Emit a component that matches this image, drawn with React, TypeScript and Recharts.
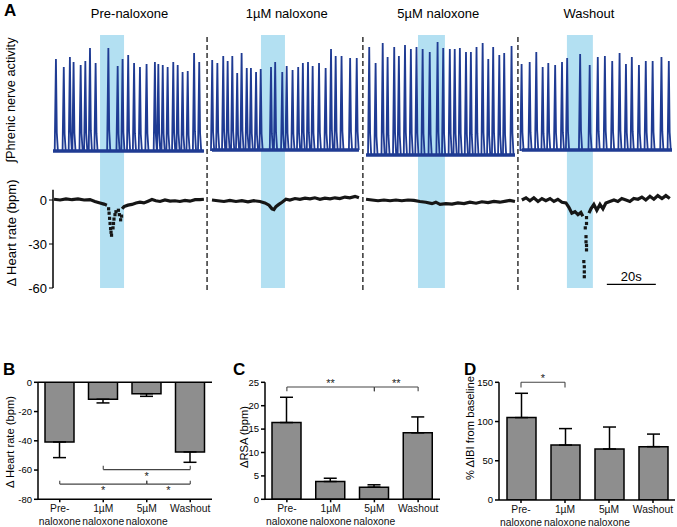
import React from "react";
import {
  ComposedChart,
  Line,
  Scatter,
  XAxis,
  YAxis,
  ReferenceArea,
  ReferenceLine,
  BarChart,
  Bar,
  ErrorBar,
} from "recharts";

const FONT = "'Liberation Sans', Arial, Helvetica, sans-serif";
const BLUE = "#1f3b93";
const SHADE = "#b3e0f2";

// ---------- Panel A: recordings (time in s) ----------
const conditions = ["Pre-naloxone", "1µM naloxone", "5µM naloxone", "Washout"];
const segStart = [0, 64.9, 127.8, 191.4];
const segEnd = [61.6, 124.9, 188.6, 252.7];
const segBase = [0, 1, -4, 1];
const shadeStart = [19.2, 84.9, 149.0, 209.8];
const shadeEnd = [29.0, 94.7, 160.0, 220.4];
const dividerT = [62.9, 126.5, 189.8];
const scaleBarT = [226.1, 246.1];

// phrenic burst peak times and heights (arbitrary units)
const burstT = [
  [1.2, 4.4, 6.9, 8.4, 11.3, 13.2, 15.1, 17.4, 22.6, 26.4, 28.4, 30.7, 33.1, 35.5, 38.2, 41.6, 43.0, 44.8, 46.8, 49.1, 50.9, 52.9, 55.0, 57.6, 59.7],
  [65.0, 67.1, 69.5, 71.3, 73.2, 75.2, 77.0, 79.1, 80.8, 82.9, 84.8, 89.0, 90.7, 93.6, 95.4, 97.8, 100.1, 102.0, 104.1, 106.0, 108.6, 111.3, 113.5, 115.4, 117.8, 121.3, 124.0],
  [129.1, 131.7, 134.6, 136.6, 139.3, 141.2, 143.7, 146.1, 148.4, 150.9, 153.8, 157.0, 159.3, 162.0, 164.0, 166.1, 168.6, 170.6, 172.9, 175.4, 177.7, 179.7, 182.2, 184.2, 187.2],
  [191.3, 194.6, 197.3, 199.9, 202.2, 205.0, 207.8, 209.9, 215.2, 219.1, 222.4, 225.3, 228.3, 231.3, 233.9, 236.3, 239.2, 242.0, 244.8, 248.4, 251.4],
];
const burstAmp = [
  [92, 84, 94, 89, 86, 90, 103, 88, 103, 85, 92, 96, 88, 84, 87, 89, 87, 86, 84, 89, 86, 79, 80, 98, 89],
  [90, 87, 94, 89, 94, 77, 97, 82, 82, 78, 81, 83, 88, 78, 84, 80, 83, 87, 88, 84, 87, 82, 101, 94, 94, 92, 92],
  [108, 92, 112, 98, 108, 99, 110, 106, 108, 106, 103, 113, 107, 106, 106, 107, 103, 103, 108, 112, 96, 108, 100, 102, 109],
  [86, 88, 98, 83, 87, 85, 88, 92, 96, 85, 93, 94, 89, 97, 86, 93, 85, 89, 89, 93, 89],
];

// heart rate change (bpm), trace and isolated beats
const hrLineT = [
  0.4, 2.9, 5.3, 7.8, 10.2, 12.7, 15.1, 17.1, 19.2, 20.8, 22.0, 22.3,
  28.2, 29.0, 30.6, 32.2, 33.9, 35.5, 37.1, 38.8, 40.4, 42.0, 43.7, 45.7, 47.8, 49.8, 51.8, 53.9, 55.9, 58.0, 60.0, 61.6, 63.0,
  64.9, 67.3, 69.8, 72.2, 74.7, 77.1, 79.6, 82.0, 84.5, 86.5, 88.2, 89.4, 90.2, 91.0, 92.2, 93.5, 95.1, 96.7, 98.8, 100.8, 102.9, 104.9, 106.9, 109.0, 111.0, 113.1, 115.1, 117.1, 119.2, 121.2, 123.3, 124.9, 126.0,
  127.8, 130.2, 132.7, 135.1, 137.6, 140.0, 142.4, 144.9, 147.3, 149.8, 152.2, 154.7, 156.3, 158.0, 160.4, 162.9, 165.3, 167.8, 170.2, 172.7, 175.1, 177.6, 180.0, 182.4, 184.9, 186.5, 188.6, 190.0,
  191.4, 193.1, 194.7, 196.3, 198.0, 199.6, 201.2, 202.9, 204.5, 206.1, 207.8, 209.4, 210.6, 211.8, 213.1, 214.3, 215.5, 216.3, 216.5,
  218.8, 219.6, 220.8, 222.0, 223.3, 224.5, 225.7, 227.3, 229.0, 230.6, 232.2, 233.9, 235.5, 237.1, 238.8, 240.4, 242.0, 243.7, 245.3, 246.9, 248.6, 250.2, 251.8,
];
const hrLineV = [
  0.5, 0, 0.8, 0.2, 0.7, 0, 0.3, -1, -2, -2.8, -3.5, null,
  -6, -4.5, -3.5, -3, -2, -1.5, -2, -0.8, 0.3, -0.5, -1, 0, -0.8, -0.5, -1, -0.3, -0.8, 0.2, 0.3, 0.5, null,
  0, -0.5, -1, -0.3, -1, -0.5, -1.2, -0.5, -1, -2, -3.5, -6, -6.5, -4.5, -3, -1.5, 0.5, 0, 1, 0.5, 1.2, 0.8, 1.5, 0.5, 1.2, 0.8, 1.5, 1, 2, 1.5, 2.5, 1.5, null,
  0.5, 0, -0.5, 0, -0.5, 0, -0.5, 0, -0.3, -1, -1.5, -2.5, -1.5, -3, -2.5, -2.8, -2, -2.5, -1.5, -2.2, -1.2, -1.8, -1, -1.5, -0.8, -0.3, -1, null,
  0, 1.5, -0.5, 1.5, -1, 1, -0.5, 1, -1, 0.5, -1.5, -2, -5, -9, -8, -10, -8.5, -11, null,
  -9, -6, -3, -7, -3, -6, -2, -1, 0, -1, 1, 0, -1, 1, 0.5, 2, 0, 2.5, 0.5, 3, 1, 3, 1,
];
const hrDotT = [22.7, 22.9, 23.1, 23.3, 23.5, 23.7, 23.9, 24.5, 24.7, 24.9, 25.3, 25.7, 26.7, 27.1, 27.6, 28.0,
  217.8, 217.8, 217.3, 217.6, 217.6, 217.8, 217.8, 216.7, 216.9, 216.9, 216.9];
const hrDotV = [-6, -9, -12.5, -16, -19.5, -22, -24, -19, -16, -13, -10, -8, -7, -10, -13.5, -11,
  -12, -16, -19, -25, -28.5, -31, -34, -42, -45.5, -49, -52.3];

// ---------- Panels B-D: group means ----------
const barCats = ["Pre-naloxone", "1µM naloxone", "5µM naloxone", "Washout"];
const catLines: Record<string, string[]> = {
  "Pre-naloxone": ["Pre-", "naloxone"],
  "1µM naloxone": ["1µM", "naloxone"],
  "5µM naloxone": ["5µM", "naloxone"],
  Washout: ["Washout"],
};
const hrMean = [-40.8, -11.6, -7.8, -47.6];
const hrSem = [10.7, 2.5, 1.8, 7.1];
const rsaMean = [16.4, 3.8, 2.6, 14.2];
const rsaSem = [5.4, 0.7, 0.5, 3.4];
const ibiMean = [105, 70, 65, 68];
const ibiSem = [31, 21, 28, 16];

// significance brackets: [from, to, y, tick length, label]
const hrSig: [number, number, number, number, string][] = [
  [1, 3, -59.7, 2.6, "*"],
  [0, 2, -69.6, 2.3, "*"],
  [2, 3, -69.6, 2.3, "*"],
];
const rsaSig: [number, number, number, number, string][] = [
  [0, 2, 24.0, -0.9, "**"],
  [2, 3, 24.0, -0.9, "**"],
];
const ibiSig: [number, number, number, number, string][] = [[0, 1, 150, -6.5, "*"]];

function buildPhrenic() {
  const rows: { t: number; p: number | null }[] = [];
  conditions.forEach((_, i) => {
    const base = segBase[i];
    rows.push({ t: segStart[i], p: base });
    burstT[i].forEach((t, j) => {
      const a = burstAmp[i][j];
      rows.push({ t: t - 0.5, p: base });
      rows.push({ t, p: base + a });
      rows.push({ t: t + 0.35, p: base + a * 0.2 });
      rows.push({ t: t + 0.8, p: base });
    });
    rows.push({ t: segEnd[i], p: base });
    rows.push({ t: segEnd[i] + 0.2, p: null });
  });
  return rows;
}

const phrRows = buildPhrenic();
const bandRows = conditions.flatMap((_, i) => [
  { t: segStart[i], b: segBase[i] },
  { t: segEnd[i], b: segBase[i] },
  { t: segEnd[i] + 0.2, b: null },
]);
const hrRows = hrLineT.map((t, i) => ({ t, hr: hrLineV[i] }));
const hrDots = hrDotT.map((t, i) => ({ t, hr: hrDotV[i] }));

const Beat = (props: any) => (
  <rect x={props.cx - 1.6} y={props.cy - 1.6} width={3.2} height={3.2} fill="#161616" />
);

const CatTick = (props: any) => {
  const { x, y, payload } = props;
  const lines = catLines[payload.value] || [payload.value];
  return (
    <text x={x} y={y} textAnchor="middle" fontSize={10.3} fill="#111" fontFamily={FONT}>
      {lines.map((l, i) => (
        <tspan key={i} x={x} dy={i === 0 ? 8.5 : 13.5}>
          {l}
        </tspan>
      ))}
    </text>
  );
};

function BarPanel({
  left,
  width,
  yWidth,
  right,
  xHeight,
  domain,
  ticks,
  mean,
  sem,
  down,
  sig,
  starPos,
  starOffset,
}: {
  left: number;
  width: number;
  yWidth: number;
  right: number;
  xHeight: number;
  domain: [number, number];
  ticks: number[];
  mean: number[];
  sem: number[];
  down: boolean;
  sig: [number, number, number, number, string][];
  starPos: "top" | "bottom";
  starOffset: number;
}) {
  const rows = barCats.map((c, i) => ({
    cat: c,
    m: mean[i],
    err: down ? [sem[i], 0] : [0, sem[i]],
  }));
  return (
    <div style={{ position: "absolute", left, top: 370 }}>
      <BarChart
        width={width}
        height={157}
        data={rows}
        margin={{ top: 12.3, right, bottom: 0, left: 0 }}
      >
        <XAxis
          dataKey="cat"
          height={xHeight}
          stroke="#000"
          strokeWidth={1.5}
          tickSize={3}
          tickMargin={1}
          tick={<CatTick />}
          interval={0}
        />
        <YAxis
          width={yWidth}
          domain={domain}
          ticks={ticks}
          allowDataOverflow
          stroke="#000"
          strokeWidth={1.5}
          tickSize={4}
          tickMargin={2}
          tick={{ fontSize: 9.5, fill: "#000", fontFamily: FONT }}
        />
        {down && <ReferenceLine y={0} stroke="#000" strokeWidth={1.5} />}
        <Bar
          dataKey="m"
          fill="#8e8e8e"
          stroke="#000"
          strokeWidth={1.5}
          barSize={29}
          isAnimationActive={false}
        >
          <ErrorBar dataKey="err" width={6.5} stroke="#000" strokeWidth={1.5} direction="y" />
        </Bar>
        {sig.map(([a, b, y, tick, lab], k) => (
          <ReferenceLine
            key={"h" + k}
            segment={[
              { x: barCats[a], y },
              { x: barCats[b], y },
            ]}
            stroke="#444"
            strokeWidth={1.1}
            label={{ value: lab, position: starPos, offset: starOffset, fontSize: 11, fill: "#222" }}
          />
        ))}
        {sig.flatMap(([a, b, y, tick], k) =>
          [a, b].map((c, j) => (
            <ReferenceLine
              key={"v" + k + "-" + j}
              segment={[
                { x: barCats[c], y },
                { x: barCats[c], y: y + tick },
              ]}
              stroke="#444"
              strokeWidth={1.1}
            />
          ))
        )}
      </BarChart>
    </div>
  );
}

export default function App() {
  return (
    <div
      style={{
        position: "absolute",
        left: 0,
        top: 0,
        width: 677,
        height: 527,
        background: "#fff",
        fontFamily: FONT,
      }}
    >
      <div style={{ position: "absolute", left: 0, top: 0 }}>
        <ComposedChart width={677} height={300} margin={{ top: 35, right: 5, bottom: 10, left: 13 }}>
          <XAxis type="number" dataKey="t" domain={[0, 252.7]} hide allowDataOverflow />
          <YAxis
            yAxisId="hr"
            domain={[-61.36, 112.5]}
            ticks={[0, -30, -60]}
            allowDataOverflow
            axisLine={false}
            stroke="#000"
            tickSize={4}
            tickMargin={2}
            width={40}
            tick={{ fontSize: 13, fill: "#000", fontFamily: FONT }}
          />
          <YAxis yAxisId="phr" hide domain={[-139, 116]} allowDataOverflow />
          {shadeStart.map((x1, i) => (
            <ReferenceArea
              key={"s" + i}
              yAxisId="hr"
              x1={x1}
              x2={shadeEnd[i]}
              y1={-60}
              y2={112.5}
              fill={SHADE}
              fillOpacity={1}
              stroke="none"
            />
          ))}
          {dividerT.map((x, i) => (
            <ReferenceLine
              key={"d" + i}
              yAxisId="hr"
              x={x}
              stroke="#333"
              strokeWidth={1.5}
              strokeDasharray="5 3"
            />
          ))}
          <ReferenceLine
            yAxisId="hr"
            segment={[
              { x: 0, y: 7 },
              { x: 0, y: -60 },
            ]}
            stroke="#000"
            strokeWidth={1.5}
          />
          <Line
            yAxisId="phr"
            data={bandRows}
            dataKey="b"
            stroke={BLUE}
            strokeWidth={3.4}
            dot={false}
            isAnimationActive={false}
          />
          <Line
            yAxisId="phr"
            data={phrRows}
            dataKey="p"
            stroke={BLUE}
            strokeWidth={1.8}
            dot={false}
            isAnimationActive={false}
          />
          <Line
            yAxisId="hr"
            data={hrRows}
            dataKey="hr"
            stroke="#161616"
            strokeWidth={3.2}
            dot={false}
            isAnimationActive={false}
          />
          <Scatter yAxisId="hr" data={hrDots} dataKey="hr" shape={Beat} isAnimationActive={false} />
          <ReferenceLine
            yAxisId="hr"
            segment={[
              { x: scaleBarT[0], y: -57.5 },
              { x: scaleBarT[1], y: -57.5 },
            ]}
            stroke="#000"
            strokeWidth={1.3}
            label={{ value: "20s", position: "top", offset: 3, fontSize: 13, fill: "#000" }}
          />
        </ComposedChart>
      </div>

      <BarPanel
        left={0}
        width={215}
        yWidth={38}
        right={3}
        xHeight={27.7}
        domain={[-80, 0]}
        ticks={[0, -20, -40, -60, -80]}
        mean={hrMean}
        sem={hrSem}
        down
        sig={hrSig}
        starPos="bottom"
        starOffset={2.4}
      />
      <BarPanel
        left={225}
        width={220}
        yWidth={40}
        right={5}
        xHeight={27.7}
        domain={[0, 25]}
        ticks={[0, 5, 10, 15, 20, 25]}
        mean={rsaMean}
        sem={rsaSem}
        down={false}
        sig={rsaSig}
        starPos="top"
        starOffset={0}
      />
      <BarPanel
        left={455}
        width={222}
        yWidth={44}
        right={2}
        xHeight={27}
        domain={[0, 150]}
        ticks={[0, 50, 100, 150]}
        mean={ibiMean}
        sem={ibiSem}
        down={false}
        sig={ibiSig}
        starPos="top"
        starOffset={0}
      />

      <svg
        width={677}
        height={527}
        style={{ position: "absolute", left: 0, top: 0, pointerEvents: "none" }}
        fontFamily={FONT}
      >
        <text x={4} y={16} fontSize={17} fontWeight="bold">A</text>
        <text x={3} y={375} fontSize={17} fontWeight="bold">B</text>
        <text x={233} y={375} fontSize={17} fontWeight="bold">C</text>
        <text x={464} y={375} fontSize={17} fontWeight="bold">D</text>
        {conditions.map((c, i) => (
          <text key={c} x={[129.5, 286.7, 438.3, 589][i]} y={18} fontSize={13} textAnchor="middle">
            {c}
          </text>
        ))}
        <text transform="translate(15,100) rotate(-90)" fontSize={12.8} textAnchor="middle">
          ∫Phrenic nerve activity
        </text>
        <text transform="translate(15.5,233) rotate(-90)" fontSize={13} textAnchor="middle">
          Δ Heart rate (bpm)
        </text>
        <text transform="translate(13.5,442) rotate(-90)" fontSize={11.2} textAnchor="middle">
          Δ Heart rate (bpm)
        </text>
        <text transform="translate(247.5,437) rotate(-90)" fontSize={11.2} textAnchor="middle">
          ΔRSA (bpm)
        </text>
        <text transform="translate(473.5,428) rotate(-90)" fontSize={11.2} textAnchor="middle">
          % ΔIBI from baseline
        </text>
      </svg>
    </div>
  );
}
